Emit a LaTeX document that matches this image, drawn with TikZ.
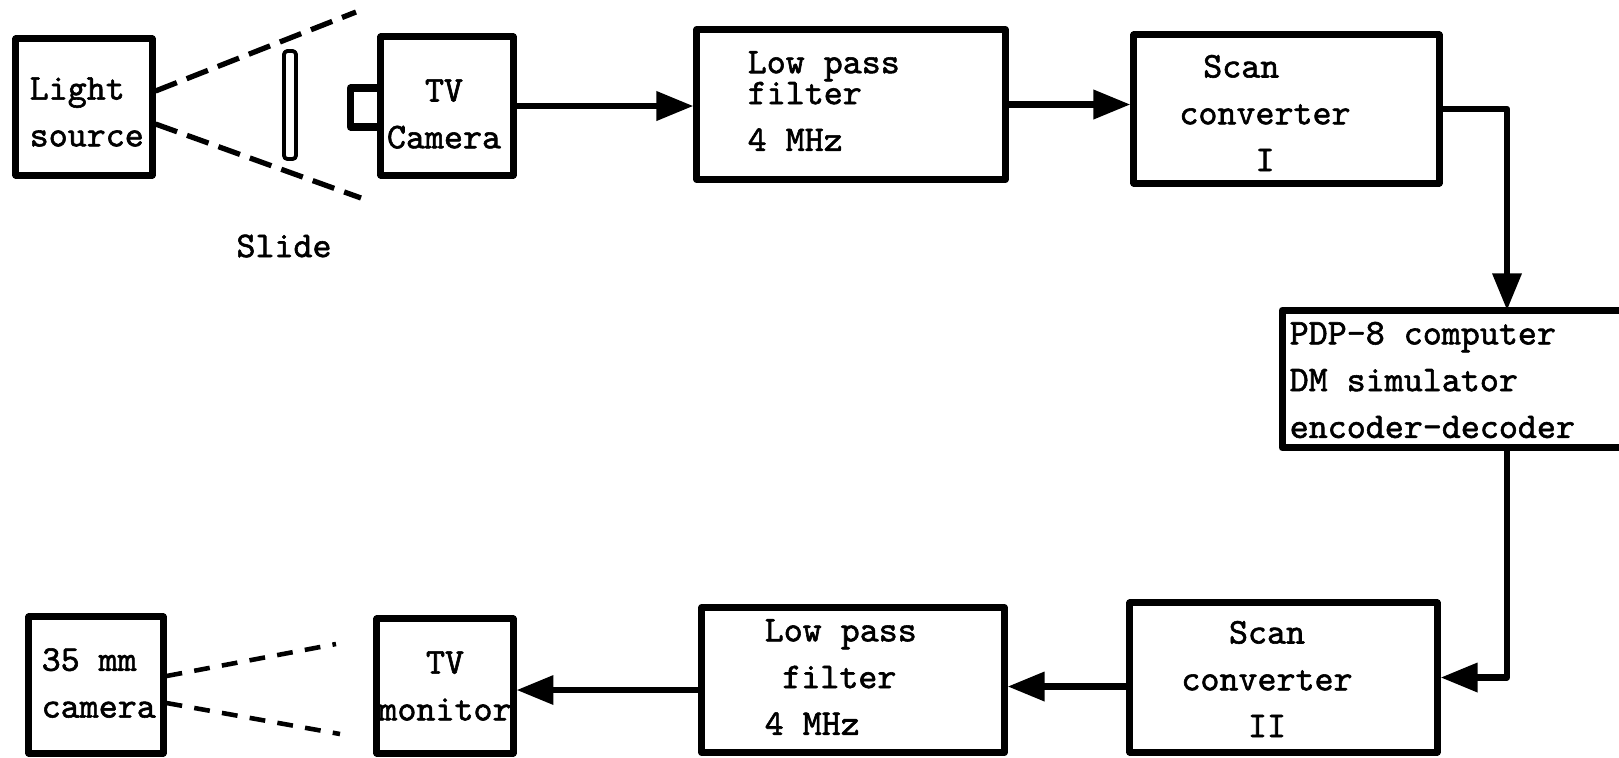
\documentclass[tikz,border=0pt]{standalone}
\usepackage{fontspec}
\newfontfamily\macchina[FakeBold=1.6]{Latin Modern Mono}
\usetikzlibrary{arrows.meta}

\begin{document}
\begin{tikzpicture}[x=0.01cm,y=-0.01cm,line join=round,line cap=round,
  blocco/.style={draw,line width=2pt,inner sep=0pt},
  testo/.style={font=\macchina\fontsize{10.3}{13.3}\selectfont,inner sep=0pt},
  flusso/.style={line width=1.8pt,line cap=butt,-{Triangle[length=10.5pt,width=8pt]}},
  fascio/.style={line width=1.5pt,line cap=butt,dash pattern=on 6.5pt off 3pt},
  fascio2/.style={line width=1.3pt,line cap=butt,dash pattern=on 4.5pt off 3.5pt}]
  \useasboundingbox (0,0) rectangle (1619,757);

  % --- blocchi della catena
  \node[blocco,minimum width=1.36cm,minimum height=1.36cm] (luce)  at (84,107) {};
  \node[blocco,minimum width=1.32cm,minimum height=1.38cm] (tvcam) at (447,106) {};
  \node[blocco,minimum width=3.08cm,minimum height=1.50cm] (lpf1)  at (851,104.5) {};
  \node[blocco,minimum width=3.05cm,minimum height=1.48cm] (sc1)   at (1286.5,109) {};
  \node[inner sep=0pt,minimum width=3.36cm,minimum height=1.36cm] (pdp) at (1451,379) {};
  \node[blocco,minimum width=3.07cm,minimum height=1.49cm] (sc2)   at (1283.5,677.5) {};
  \node[blocco,minimum width=3.02cm,minimum height=1.45cm] (lpf2)  at (853,680) {};
  \node[blocco,minimum width=1.36cm,minimum height=1.34cm] (tvmon) at (445,686) {};
  \node[blocco,minimum width=1.34cm,minimum height=1.36cm] (cam35) at (96,685) {};

  % --- il riquadro del calcolatore esce dal foglio a destra
  \draw[line width=2pt] (pdp.north east) -- (pdp.north west) -- (pdp.south west) -- (pdp.south east);

  % --- obiettivo della telecamera e vetrino
  \draw[line width=2pt] ([yshift=0.18cm]tvcam.west) -- ++(-27,0) -- ++(0,39) -- ++(27,0);
  \node[draw,line width=1.1pt,rounded corners=1pt,minimum width=0.12cm,minimum height=1.08cm,inner sep=0pt] (vetrino) at (290,105) {};

  % --- testi
  \node[testo,anchor=west,align=left] (luce-t) at (29,112) {Light\\source};
  \node[testo,align=center] (tvcam-t) at (444,114) {TV\\Camera};
  \node[testo,anchor=west,align=left] (lpf1-t) at (747,101) {Low pass\\[-4.5pt]filter\\4 MHz};
  \node[testo,align=center] (sc1-t) at (1265,113) {Scan\hspace*{13.5pt}\\converter\\I};
  \node[testo,anchor=west,align=left] (pdp-t) at (1289,380) {PDP-8 computer\\DM simulator\\encoder-decoder};
  \node[testo,align=center] (sc2-t) at (1267,679) {Scan\\converter\\II};
  \node[testo,anchor=west,align=left] (lpf2-t) at (764,677) {Low pass\\\hspace*{5pt}filter\\4 MHz};
  \node[testo,align=center] (tvmon-t) at (445,686) {TV\\monitor};
  \node[testo,anchor=west,align=left] (cam35-t) at (41,683) {35 mm\\camera};
  \node[testo] (vetrino-t) at (284,246) {Slide};

  % --- fasci di luce tratteggiati
  \coordinate (fascio-su)  at (356,12);
  \coordinate (fascio-giu) at (361,198);
  \coordinate (ripresa-su)  at (336,644);
  \coordinate (ripresa-giu) at (340,734);
  \draw[fascio] ([yshift=0.16cm]luce.east) -- (fascio-su);
  \draw[fascio] ([yshift=-0.17cm]luce.east) -- (fascio-giu);
  \draw[fascio2] ([yshift=0.09cm]cam35.east) -- (ripresa-su);
  \draw[fascio2] ([yshift=-0.18cm]cam35.east) -- (ripresa-giu);

  % --- collegamenti
  \coordinate (dorsale) at (1507,0);
  \coordinate (sc2-out)  at ([yshift=-0.09cm]sc2.west);
  \coordinate (lpf2-out) at ([yshift=-0.10cm]lpf2.west);
  \draw[flusso] (tvcam.east) -- (tvcam.east -| lpf1.west);
  \draw[flusso] (lpf1.east) -- (lpf1.east -| sc1.west);
  \draw[flusso] (sc1.east) -| (dorsale |- pdp.north);
  \draw[flusso] (dorsale |- pdp.south) |- (sc2.east);
  \draw[flusso] (sc2-out) -- (sc2-out -| lpf2.east);
  \draw[flusso] (lpf2-out) -- (lpf2-out -| tvmon.east);
\end{tikzpicture}
\end{document}
